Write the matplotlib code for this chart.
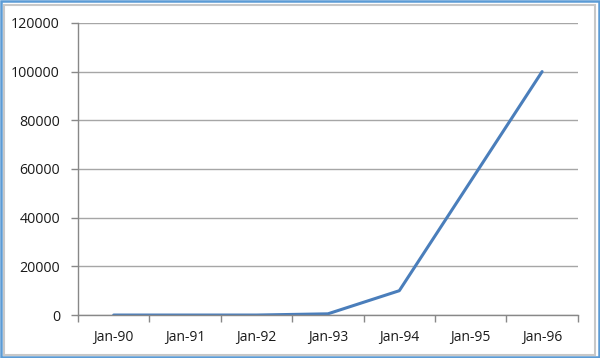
import matplotlib
matplotlib.use("Agg")
import matplotlib.pyplot as plt
from matplotlib.patches import Rectangle

# data
months = ["Jan-90", "Jan-91", "Jan-92", "Jan-93", "Jan-94", "Jan-95", "Jan-96"]
values = [0, 0, 0, 500, 10000, 55000, 100000]
y_ticks = [0, 20000, 40000, 60000, 80000, 100000, 120000]

plt.rcParams['font.family'] = ['Open Sans', 'DejaVu Sans']

fig = plt.figure(figsize=(6, 3.58), dpi=100)
ax = fig.add_axes([0.13, 0.12, 0.833, 0.816])

x = list(range(len(months)))
ax.plot(x, values, color="#4A7EBB", linewidth=2.2, solid_capstyle="round")

ax.set_xlim(-0.5, len(months) - 0.5)
ax.set_ylim(0, 120000)
ax.set_yticks(y_ticks)
ax.set_yticklabels([str(v) for v in y_ticks], fontsize=10.3, color="#1a1a1a")
ax.set_xticks(x)
ax.set_xticklabels(months, fontsize=10, color="#1a1a1a")
ax.tick_params(axis="x", length=0, pad=11)
# category boundary ticks
ax.set_xticks([i - 0.5 for i in range(len(months) + 1)], minor=True)
ax.tick_params(axis="x", which="minor", length=5, color="#888888", width=1)
ax.tick_params(axis="y", length=5, color="#888888", width=1, pad=8)

ax.grid(axis="y", color="#A6A6A6", linewidth=1)
ax.set_axisbelow(True)
for s in ["top", "right"]:
    ax.spines[s].set_visible(False)
for s in ["left", "bottom"]:
    ax.spines[s].set_color("#888888")
    ax.spines[s].set_linewidth(1)

# frame around the picture
fig.patches.append(Rectangle((0.006, 0.009), 0.986, 0.978, transform=fig.transFigure,
                             fill=False, edgecolor="#C8C8C8", linewidth=1.5))
fig.patches.append(Rectangle((0.002, 0.003), 0.996, 0.994, transform=fig.transFigure,
                             fill=False, edgecolor="#5B9BD5", linewidth=1.8))

fig.savefig("out.png", dpi=100)
